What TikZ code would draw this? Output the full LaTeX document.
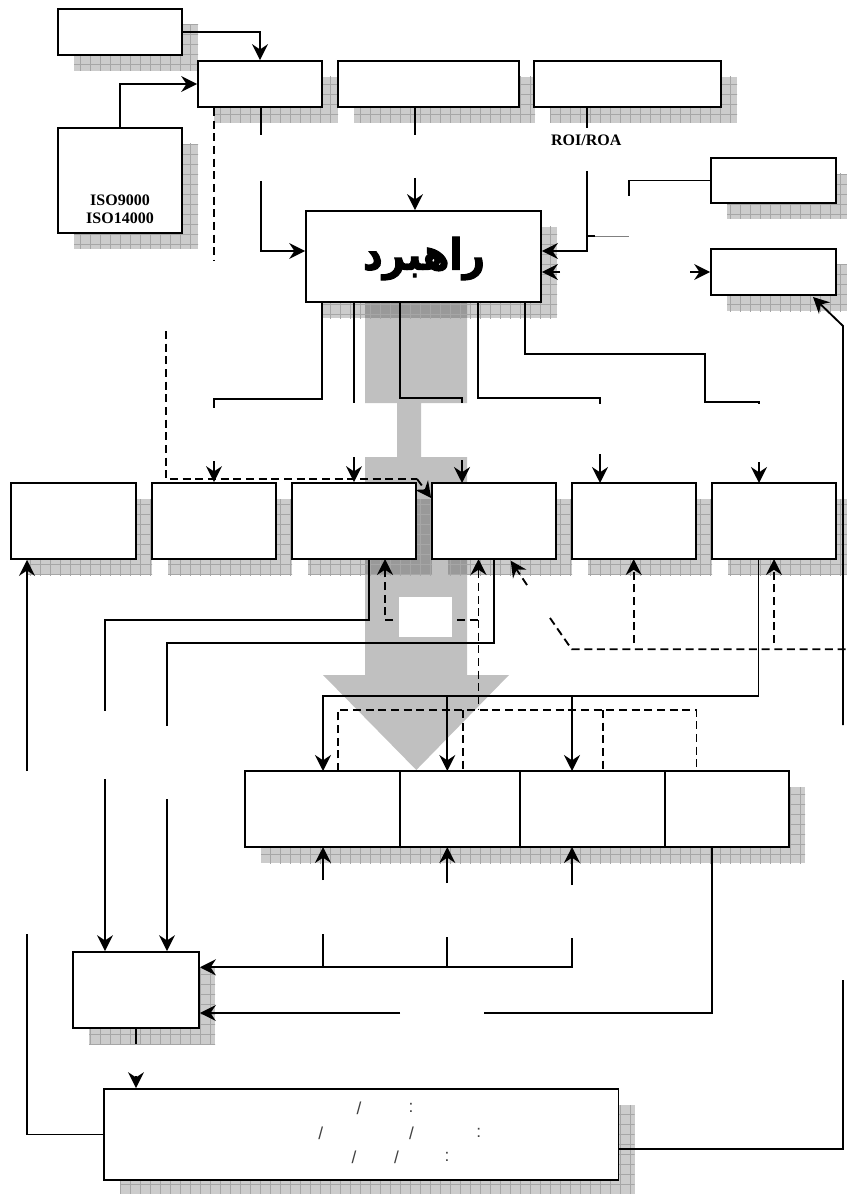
\documentclass[tikz,border=0pt]{standalone}
\usepackage{fontspec}
\usepackage{graphicx}
\usetikzlibrary{arrows.meta,shadows,patterns}
\TeXXeTstate=1
\newfontfamily\arabicfont[Script=Arabic,FakeBold=2.5]{DejaVu Sans Bold}
\newfontfamily\timesf{Liberation Serif}
\newfontfamily\arialf{Liberation Sans}
\definecolor{arrgray}{HTML}{C0C0C0}
\definecolor{gridgray}{HTML}{A6A6A6}
\pgfdeclarepatternformonly{shgrid}{\pgfqpoint{-1pt}{-1pt}}{\pgfqpoint{8.5pt}{8.5pt}}{\pgfqpoint{7.5pt}{7.5pt}}{%
  \pgfsetlinewidth{0.5pt}%
  \pgfpathmoveto{\pgfqpoint{0pt}{0pt}}\pgfpathlineto{\pgfqpoint{0pt}{7.6pt}}%
  \pgfpathmoveto{\pgfqpoint{0pt}{0pt}}\pgfpathlineto{\pgfqpoint{7.6pt}{0pt}}%
  \pgfusepath{stroke}}
\begin{document}
\begin{tikzpicture}[x=0.75pt,y=-0.75pt,
  shgen/.style={general shadow={shadow xshift=12pt,shadow yshift=-12pt,fill=black,fill opacity=0.2},
                general shadow={shadow xshift=12pt,shadow yshift=-12pt,pattern=shgrid,pattern color=gridgray}},
  box/.style={draw, line width=1.3pt, fill=white, inner sep=0pt, shgen},
  ln/.style={line width=1.4pt},
  arr/.style={ln, -{Stealth[length=12pt,width=12pt,inset=4pt]}},
  dsh/.style={ln, dash pattern=on 6pt off 3.5pt},
  serifb/.style={font=\timesf\bfseries\fontsize{12}{13.5}\selectfont, inner sep=0pt, align=center},
  ktxt/.style={font=\arialf\fontsize{13}{14}\selectfont, text=black!75, inner sep=0pt}]
\useasboundingbox (0,0) rectangle (846,1194);

% big grey arrow (background)
\fill[arrgray] (365,296) -- (467,296) -- (467,403) -- (421,403) -- (421,457) -- (467,457)
  -- (467,675) -- (509,675) -- (416.3,770) -- (323,675) -- (365,675) -- (365,457)
  -- (397,457) -- (397,403) -- (365,403) -- cycle;

% boxes
\node[box, minimum width=93pt, minimum height=34.5pt] (A) at (120,32) {};
\node[box, minimum width=93pt, minimum height=34.5pt] (B) at (260,84) {};
\node[box, minimum width=135.75pt, minimum height=34.5pt] (C) at (428.5,84) {};
\node[box, minimum width=140.25pt, minimum height=34.5pt] (D) at (627.5,84) {};
\node[box, minimum width=93pt, minimum height=78.75pt] (E) at (120,180.5) {};
\node[box, minimum width=176.25pt, minimum height=68.25pt] (R) at (423.5,256.5) {};
\node[box, minimum width=93.75pt, minimum height=33.75pt] (F) at (773.5,180.5) {};
\node[box, minimum width=93.75pt, minimum height=34.5pt] (G) at (773.5,272) {};
\node[box, minimum width=93.75pt, minimum height=57pt] (row1) at (73.5,521) {};
\node[box, minimum width=93pt, minimum height=57pt] (row2) at (214,521) {};
\node[box, minimum width=93pt, minimum height=57pt] (row3) at (354,521) {};
\node[box, minimum width=93pt, minimum height=57pt] (row4) at (494,521) {};
\node[box, minimum width=93pt, minimum height=57pt] (row5) at (634,521) {};
\node[box, minimum width=93pt, minimum height=57pt] (row6) at (774,521) {};
\node[fill=white, inner sep=0pt, minimum width=39.75pt, minimum height=30pt] (W) at (425.5,617) {};
\node[box, minimum width=116.25pt, minimum height=57pt] (I1) at (322.5,809) {};
\node[box, minimum width=90pt, minimum height=57pt] (I2) at (460,809) {};
\node[box, minimum width=108.75pt, minimum height=57pt] (I3) at (592.5,809) {};
\node[box, minimum width=93pt, minimum height=57pt] (I4) at (727,809) {};
\node[box, minimum width=94.5pt, minimum height=57pt] (J) at (136,990) {};
\node[box, minimum width=385.9pt, minimum height=68.25pt] (K) at (361.3,1134.5) {};

% texts
\node[serifb] (iso) at (120,209) {ISO9000\\ISO14000};
\node[serifb] (roi) at (586.3,140) {ROI/ROA};
\node[inner sep=0pt] (rtxt) at (424,258.5) {\resizebox*{91.5pt}{32.5pt}{\arabicfont\beginR راهبرد\endR}};
\node[ktxt] (k1a) at (359,1108) {/};
\node[ktxt] (k1b) at (411,1108) {:};
\node[ktxt] (k2a) at (320.7,1133) {/};
\node[ktxt] (k2b) at (411.5,1133) {/};
\node[ktxt] (k2c) at (478.7,1133) {:};
\node[ktxt] (k3a) at (354,1157) {/};
\node[ktxt] (k3b) at (396.5,1157) {/};
\node[ktxt] (k3c) at (447,1157) {:};

% free ends
\coordinate (bd) at (214,260);
\coordinate (b1) at (261,135);
\coordinate (b2) at (261,181);
\coordinate (c1) at (415,135);
\coordinate (c2) at (415,178);
\coordinate (d1) at (587,128);
\coordinate (d2) at (587,171);
\coordinate (rin) at (560,272);
\coordinate (fend) at (629,196);
\coordinate (gin) at (690,272);
\coordinate (rt) at (843,725);
\coordinate (lf1) at (27,771);
\coordinate (lj1) at (105,779);
\coordinate (lj2) at (167,799);

% top connectors
\draw[arr] (A.east) -| (B.north);
\draw[arr] (E.north) |- (B.west);
\draw[dsh] (bd |- B.south) -- (bd);
\draw[ln] (b1 |- B.south) -- (b1);
\draw[arr] (b2) |- (R.west |- 0,251);
\draw[ln] (c1 |- C.south) -- (c1);
\draw[arr] (c2) -- (c2 |- R.north);
\draw[ln] (d1 |- D.south) -- (d1);
\draw[arr] (d2) |- (R.east |- 0,251);
\draw[line width=1.5pt] (587,236) -- (595,236);
\draw[gray, line width=0.5pt] (595,236) -- (629,236);
\draw[arr] (rin) -- (R.east |- rin);
\draw[ln] (F.west) -| (fend);
\draw[arr] (gin) -- (G.west);
\draw[arr] (rt) -- (843,326) -- (813,297);

% from strategy box down to the row
\draw[ln] (322.3,302) -- (322.3,399) -| (214,408);
\draw[arr] (214,461) -- (row2.north);
\draw[ln] (354,302) -- (354,403);
\draw[arr] (354,457) -- (row3.north);
\draw[ln] (400,302) |- (462,398) -- (462,403);
\draw[arr] (462,460) -- (462,483);
\draw[ln] (478,302) |- (600,398) -- (600,404);
\draw[arr] (600,454) -- (600,483);
\draw[ln] (525,302) -- (525,354) -- (705,354) -- (705,402) -- (759,402) -- (759,404);
\draw[arr] (759,462) -- (759,483);
\draw[dsh] (166,331) -- (166,479) -- (417,479);
\draw[dsh,arr] (417,479) -- (row4.west |- 0,498);

% below the row
\draw[arr] (lf1) -- (lf1 |- row1.south);
\draw[ln] (369,559) -- (369,620) -- (105,620) -- (105,711);
\draw[arr] (lj1) -- (lj1 |- J.north);
\draw[ln] (494,559) -- (494,643) -- (167,643) -- (167,726);
\draw[arr] (lj2) -- (lj2 |- J.north);
\draw[dsh,arr] (393,620) -| (385,559);
\draw[dsh,arr] (457,620) -| (478.5,559);
\draw[dsh] (478.5,620) -- (478.5,710);
\draw[dsh] (338,771) |- (696.5,710) -- (696.5,771);
\draw[dsh] (463,710) -- (463,771);
\draw[dsh] (603,710) -- (603,771);
\draw[dsh,arr] (527,585) -- (510.7,560.7);
\draw[dsh] (550,618) -- (571.7,649.3) -- (846,649.3);
\draw[dsh,arr] (633.7,643) -- (633.7,559);
\draw[dsh,arr] (774,643) -- (774,559);
\draw[ln] (758.5,559) -- (758.5,696) -- (447.3,696);
\draw[arr] (447.3,696) -- (323,696) -- (323,771);
\draw[arr] (447.3,696) -- (447.3,771);
\draw[arr] (572,696) -- (572,771);

% below the four cells
\draw[arr] (323,880) -- (323,847);
\draw[arr] (447.3,883) -- (447.3,847);
\draw[arr] (572,885) -- (572,847);
\draw[ln] (323,934) -- (323,967.3);
\draw[ln] (447.3,937) -- (447.3,967.3);
\draw[arr] (572,938) |- (J.east |- 0,967.3);
\draw[ln] (711.7,847) |- (484,1013);
\draw[arr] (400,1013) -- (J.east |- 0,1013);
\draw[ln] (J.south) -- (136,1044);
\draw[arr] (136,1076) -- (K.north -| 136,0);
\draw[ln] (27,934) |- (K.west);
\draw[ln] (K.east |- 0,1149) -| (843,980);
\end{tikzpicture}
\end{document}
